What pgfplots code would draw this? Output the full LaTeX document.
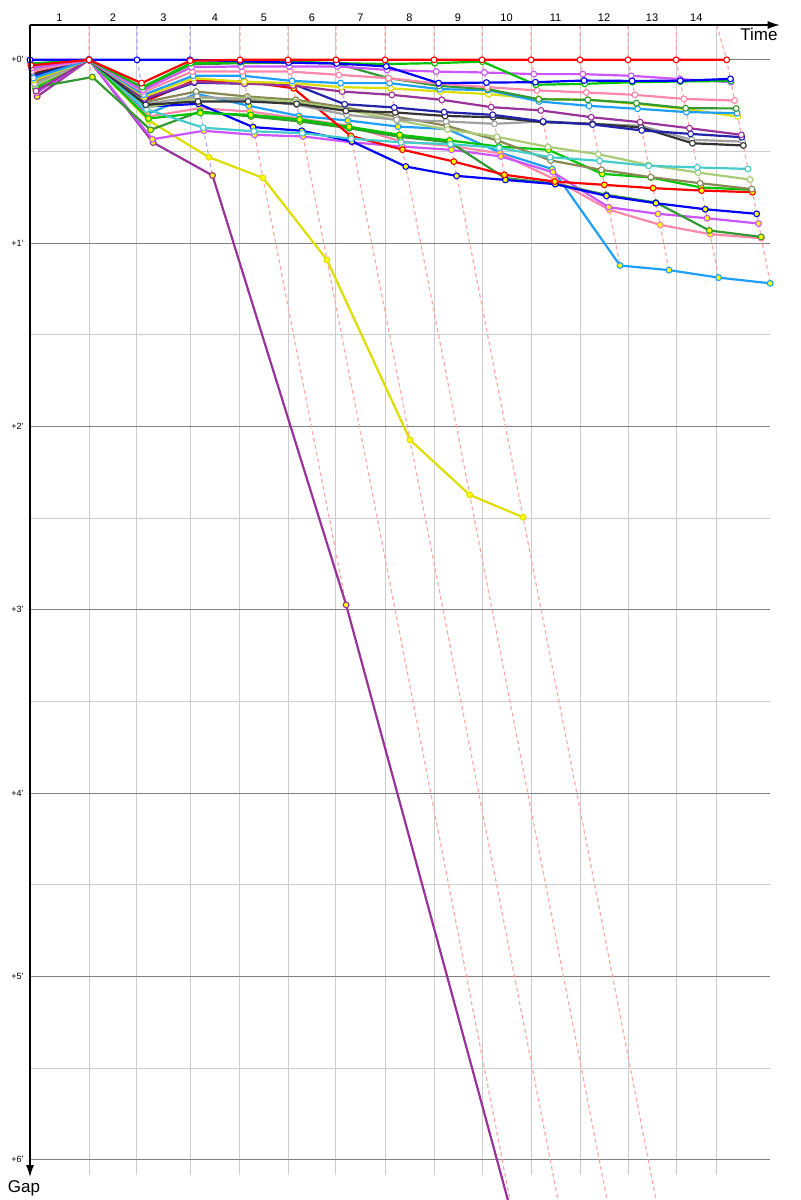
\documentclass[border=0pt]{standalone}
\usepackage{fontspec}
\setmainfont{Liberation Sans}
\usepackage{pgfplots}
\pgfplotsset{compat=1.18}
\usepackage{pgfplotstable}
\usetikzlibrary{arrows.meta}

\definecolor{cRed}{HTML}{FF0000}
\definecolor{cBlue}{HTML}{0000FF}
\definecolor{cGreen}{HTML}{00C400}
\definecolor{cDkGreen}{HTML}{339933}
\definecolor{cMagenta}{HTML}{CC55FF}
\definecolor{cPink}{HTML}{FF88AA}
\definecolor{cLtBlue}{HTML}{1E9FFF}
\definecolor{cYellow}{HTML}{DDDD00}
\definecolor{cPurple}{HTML}{993399}
\definecolor{cDkBlue}{HTML}{2222AA}
\definecolor{cBlack}{HTML}{333333}
\definecolor{cGray}{HTML}{A0A0A0}
\definecolor{cOlive}{HTML}{888855}
\definecolor{cLtOlive}{HTML}{AACC77}
\definecolor{cCyan}{HTML}{44CCCC}
\definecolor{lapRed}{HTML}{FFAAAA}
\definecolor{lapBlue}{HTML}{AAAAFF}
\definecolor{gridLight}{HTML}{CCCCCC}
\definecolor{gridDark}{HTML}{808080}
\definecolor{mkYellow}{HTML}{FFFF00}

\pgfplotstableread{
lap T blueo redo greeno dkgreeno magentao pinko ltblueo yellowo purpleo dkblueo blacko grayo olive ltolive cyan redy bluey greeny dkgreeny magentay pinky ltbluey yellowy purpley
0 0 0 .03 .02 .035 .045 .06 .1 .11 .17 .09 .08 .13 .12 .14 .05 .075 .085 .15 .15 .18 .16 .12 .17 .2
1 1.653 0 0 0 0 0 0 0 0 0 0 0 0 0 0 0 0 0 0 .094 0 0 0 0 0
2 2.997 0 .127 .149 .155 .165 .175 .19 .2 .21 .215 .245 .24 .23 .26 .27 .227 .255 .32 .382 .433 .31 .295 .331 .451
3 4.482 0 .005 .018 .025 .04 .064 .087 .1 .12 .125 .227 .2 .173 .21 .37 .113 .24 .29 .282 .387 .264 .185 .531 .631
4 5.882 .008 0 .013 .018 .036 .064 .087 .12 .13 .13 .227 .218 .2 .21 .39 .118 .367 .3 .309 .409 .282 .251 .644 2.973
5 7.227 .015 0 .009 .015 .036 .064 .115 .127 .14 .131 .24 .245 .218 .23 .40 .155 .387 .325 .336 .418 .32 .306 1.091 6.37
6 8.571 .02 0 .018 .02 .036 .082 .127 .149 .173 .242 .278 .3 .26 .27 .43 .415 .445 .365 .373 .45 .36 .331 2.073 7.6
7 9.944 .036 0 .023 .1 .055 .1 .127 .155 .191 .26 .287 .327 .31 .33 .45 .49 .582 .409 .42 .473 .445 .364 2.373 8.8
8 11.317 .127 0 .018 .142 .064 .13 .16 .173 .218 .285 .306 .336 .36 .38 .46 .555 .633 .44 .45 .491 .47 .378 2.495 10
9 12.661 .124 0 .01 .16 .069 .149 .165 .187 .258 .3 .313 .349 .44 .42 .48 .627 .655 .473 .645 .527 .51 .506 nan nan
10 14.034 .122 0 .136 .215 .078 .167 .227 .213 .276 .336 .34 .336 .549 .475 .531 .664 .678 .491 .675 .613 .651 .596 nan nan
11 15.406 .113 0 .131 .218 .078 .178 .251 .218 .313 .353 .349 .349 .6 .515 .551 .682 .742 .622 .736 .804 .818 1.122 nan nan
12 16.751 .115 0 .122 .236 .087 .191 .267 .24 .34 .385 .369 .36 .64 .573 .578 .70 .782 .642 .778 .84 .90 1.147 nan nan
13 18.1 .114 0 .118 .264 .105 .213 .285 .269 .373 .404 .455 .436 .673 .615 .587 .713 .815 .696 .931 .864 .951 1.188 nan nan
14 19.515 .104 0 .115 .265 .122 .222 .291 .309 .409 .422 .467 .446 .705 .653 .595 .722 .84 .709 .966 .893 .973 1.219 nan nan
}\gaps

\pgfplotsset{
  op/.style={draw=#1, line width=1.1pt, mark=*, mark size=1.45pt,
    mark options={draw=#1, fill=white, line width=0.55pt, solid}},
  yp/.style={draw=#1, line width=1.1pt, mark=*, mark size=1.45pt,
    mark options={draw=#1, fill=mkYellow, line width=0.55pt, solid}},
  lapR/.style={draw=lapRed, line width=0.6pt, dash pattern=on 2pt off 1.5pt, no marks},
  lapB/.style={draw=lapBlue, line width=0.6pt, dash pattern=on 2pt off 1.5pt, no marks},
}
\newcommand{\drv}[3]{\addplot[#1=#2] table[x expr=\thisrow{T}+\thisrow{#3}, y=#3] {\gaps};}

\begin{document}
\begin{tikzpicture}
\useasboundingbox (0pt,0pt) rectangle (400pt,600pt);
\begin{axis}[
  at={(202.5pt,293.75pt)}, anchor=center,
  width=375pt, height=587.5pt, scale only axis,
  xmin=0, xmax=21.008, ymin=-0.19, ymax=6.2193, y dir=reverse,
  hide axis, clip mode=individual,
]
% grid
\pgfplotsinvokeforeach{0.5,1.5,2.5,3.5,4.5,5.5}{
  \draw[gridLight, line width=0.5pt] (axis cs:0,#1) -- (axis cs:20.73,#1);
}
\pgfplotsinvokeforeach{1.653,2.997,4.482,5.882,7.227,8.571,9.944,11.317,12.661,14.034,15.406,16.751,18.1,19.235}{
  \draw[gridLight, line width=0.5pt] (axis cs:#1,-0.19) -- (axis cs:#1,6.083);
}
\pgfplotsinvokeforeach{0,1,2,3,4,5,6}{
  \draw[gridDark, line width=0.5pt] (axis cs:0,#1) -- (axis cs:20.73,#1);
  \node[anchor=east, inner sep=0pt, font=\fontsize{4.5}{5}\selectfont] at (axis cs:-0.168,#1) {+#1'};
}
% lap lines
\addplot[lapR] coordinates {(1.653,-0.19) (1.653,0) (1.747,0.094)};
\addplot[lapB] coordinates {(2.997,-0.19) (2.997,0) (3.448,0.451)};
\addplot[lapB] coordinates {(4.482,-0.19) (4.482,0) (5.113,0.631)};
\addplot[lapR] coordinates {(5.882,-0.19) (5.882,0) (8.855,2.973)};
\addplot[lapR] coordinates {(7.227,-0.19) (7.227,0) (13.597,6.37)};
\addplot[lapR] coordinates {(8.571,-0.19) (8.571,0) (16.171,7.6)};
\addplot[lapR] coordinates {(9.944,-0.19) (9.944,0) (18.744,8.8)};
\addplot[lapR] coordinates {(11.317,-0.19) (11.317,0) (21.317,10)};
\addplot[lapR] coordinates {(12.661,-0.19) (12.661,0) (13.316,0.655)};
\addplot[lapR] coordinates {(14.034,-0.19) (14.034,0) (14.712,0.678)};
\addplot[lapR] coordinates {(15.406,-0.19) (15.406,0) (16.528,1.122)};
\addplot[lapR] coordinates {(16.751,-0.19) (16.751,0) (17.898,1.147)};
\addplot[lapR] coordinates {(18.1,-0.19) (18.1,0) (19.288,1.188)};
\addplot[lapR] coordinates {(19.235,-0.19) (19.515,0) (20.734,1.219)};
% drivers (yellow markers)
\drv{yp}{cPurple}{purpley}
\drv{yp}{cYellow}{yellowy}
\drv{yp}{cLtBlue}{ltbluey}
\drv{yp}{cPink}{pinky}
\drv{yp}{cMagenta}{magentay}
\drv{yp}{cDkGreen}{dkgreeny}
\drv{yp}{cBlue}{bluey}
\drv{yp}{cGreen}{greeny}
\drv{yp}{cRed}{redy}
% drivers (open markers)
\drv{op}{cOlive}{olive}
\drv{op}{cLtOlive}{ltolive}
\drv{op}{cCyan}{cyan}
\drv{op}{cGray}{grayo}
\drv{op}{cBlack}{blacko}
\drv{op}{cDkBlue}{dkblueo}
\drv{op}{cPurple}{purpleo}
\drv{op}{cYellow}{yellowo}
\drv{op}{cLtBlue}{ltblueo}
\drv{op}{cDkGreen}{dkgreeno}
\drv{op}{cPink}{pinko}
\drv{op}{cMagenta}{magentao}
\drv{op}{cGreen}{greeno}
\drv{op}{cBlue}{blueo}
\drv{op}{cRed}{redo}
% axes
\draw[black, line width=0.6pt, -{Latex[length=6pt,width=4pt]}] (axis cs:0,-0.19) -- (axis cs:21.0,-0.19);
\draw[black, line width=0.6pt, -{Latex[length=6pt,width=4pt]}] (axis cs:0,-0.19) -- (axis cs:0,6.094);
\node[anchor=north east, inner sep=0pt, font=\fontsize{8.5}{9}\selectfont] at (axis cs:20.95,-0.175) {Time};
\node[anchor=north, inner sep=0pt, font=\fontsize{8.5}{9}\selectfont] at (axis cs:-0.17,6.11) {Gap};
\pgfplotsforeachungrouped \p/\l in {0.826/1,2.325/2,3.739/3,5.182/4,6.555/5,7.899/6,9.258/7,10.630/8,11.989/9,13.347/10,14.720/11,16.078/12,17.423/13,18.664/14}{
  \edef\tmp{\noexpand\node[inner sep=0pt, font=\noexpand\fontsize{5.5}{6}\noexpand\selectfont] at (axis cs:\p,-0.229) {\l};}
  \tmp
}
\end{axis}
\end{tikzpicture}
\end{document}
